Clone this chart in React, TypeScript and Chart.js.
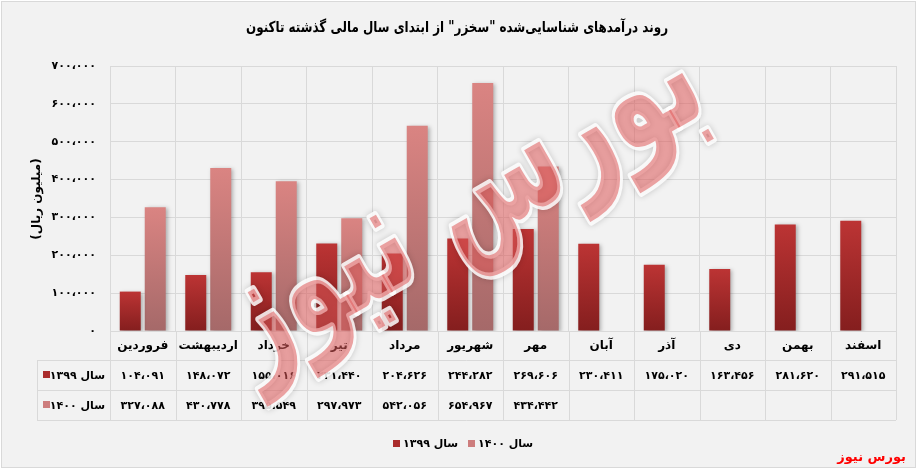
import React, { useEffect, useRef } from "react";
import { Chart, registerables } from "chart.js";
Chart.register(...registerables);

const categories = ["فروردین", "اردیبهشت", "خرداد", "تیر", "مرداد", "شهریور", "مهر", "آبان", "آذر", "دی", "بهمن", "اسفند"];
const series1399 = [104091, 148072, 155016, 231440, 204626, 244282, 269606, 230411, 175020, 163456, 281620, 291515];
const series1400 = [327088, 430778, 395549, 297973, 542056, 654967, 434442, null, null, null, null, null];
const seriesLabels = ["سال ۱۳۹۹", "سال ۱۴۰۰"];
const yMax = 700000;
const yStep = 100000;
const titleText = 'روند درآمدهای شناسایی‌شده "سخزر" از ابتدای سال مالی گذشته تاکنون';
const yTitleText = "(میلیون ریال)";
const watermarkText = "بورس نیوز";
const sourceText = "بورس نیوز";

const FONT = '"DejaVu Sans", sans-serif';
const faDigits = "۰۱۲۳۴۵۶۷۸۹";
function toFa(n: number): string {
  const s = Math.round(n).toString().replace(/\B(?=(\d{3})+(?!\d))/g, "،");
  return s.replace(/\d/g, (d) => faDigits[+d]);
}

const swatch = ["rgb(170,44,44)", "rgb(205,125,125)"];

function barGradient(top: [number, number, number], bottom: [number, number, number]) {
  return (ctx: any) => {
    const chart = ctx.chart;
    const area = chart.chartArea;
    const v = ctx.parsed ? ctx.parsed.y : null;
    if (!area || v == null) return `rgb(${top.join(",")})`;
    const yTop = chart.scales.y.getPixelForValue(v);
    const g = chart.ctx.createLinearGradient(0, yTop, 0, area.bottom);
    g.addColorStop(0, `rgb(${top.join(",")})`);
    g.addColorStop(1, `rgb(${bottom.join(",")})`);
    return g;
  };
}

const decorPlugin = {
  id: "decor",
  beforeDraw(chart: any) {
    const ctx = chart.ctx;
    ctx.save();
    ctx.fillStyle = "#ffffff";
    ctx.fillRect(0, 0, chart.width, chart.height);
    ctx.fillStyle = "#f2f2f2";
    ctx.fillRect(2, 2, 913, 465);
    ctx.strokeStyle = "#d9d9d9";
    ctx.lineWidth = 1;
    ctx.strokeRect(1.5, 1.5, 914, 466);
    ctx.restore();
  },
  beforeDatasetsDraw(chart: any) {
    const ctx = chart.ctx;
    ctx.save();
    ctx.shadowColor = "rgba(0,0,0,0.28)";
    ctx.shadowBlur = 4;
    ctx.shadowOffsetX = 2;
    ctx.shadowOffsetY = 1;
  },
  afterDatasetsDraw(chart: any) {
    chart.ctx.restore();
  },
  afterDraw(chart: any) {
    const ctx = chart.ctx;
    const area = chart.chartArea;
    const xs = chart.scales.x;
    const colW = (area.right - area.left) / categories.length;
    ctx.save();

    // title (condensed to the reference width)
    ctx.save();
    ctx.fillStyle = "#000";
    ctx.textAlign = "center";
    ctx.textBaseline = "middle";
    ctx.font = `bold 15px ${FONT}`;
    const tw = ctx.measureText(titleText).width;
    ctx.translate(457, 28);
    ctx.scale(Math.min(1, 422 / tw), 1);
    ctx.fillText(titleText, 0, 0);
    ctx.restore();

    // y title
    ctx.save();
    ctx.fillStyle = "#000";
    ctx.textAlign = "center";
    ctx.textBaseline = "middle";
    ctx.translate(37, 199);
    ctx.rotate(-Math.PI / 2);
    ctx.font = `bold 12px ${FONT}`;
    ctx.fillText(yTitleText, 0, 0);
    ctx.restore();

    // table
    const rowTop = area.bottom;
    const r1 = rowTop + 29;
    const r2 = r1 + 30;
    const r3 = r2 + 30;
    const labelLeft = 37;
    ctx.strokeStyle = "#d9d9d9";
    ctx.lineWidth = 1;
    ctx.beginPath();
    [r1, r2, r3].forEach((y) => {
      ctx.moveTo(labelLeft, Math.round(y) + 0.5);
      ctx.lineTo(area.right, Math.round(y) + 0.5);
    });
    ctx.moveTo(labelLeft + 0.5, r1);
    ctx.lineTo(labelLeft + 0.5, r3);
    for (let i = 0; i <= categories.length; i++) {
      const x = Math.round(area.left + i * colW) + 0.5;
      ctx.moveTo(x, rowTop);
      ctx.lineTo(x, r3);
    }
    ctx.stroke();

    ctx.fillStyle = "#000";
    ctx.textAlign = "center";
    ctx.textBaseline = "middle";
    categories.forEach((c, i) => {
      const cx = xs.getPixelForValue(i);
      ctx.font = `bold 12px ${FONT}`;
      ctx.fillText(c, cx, (rowTop + r1) / 2);
      ctx.font = `bold 11px ${FONT}`;
      const v1 = series1399[i];
      if (v1 != null) ctx.fillText(toFa(v1), cx, (r1 + r2) / 2 + 1);
      const v2 = series1400[i];
      if (v2 != null) ctx.fillText(toFa(v2), cx, (r2 + r3) / 2 + 1);
    });
    // row labels
    [[r1, r2], [r2, r3]].forEach(([a, b], k) => {
      const cy = (a + b) / 2;
      ctx.fillStyle = swatch[k];
      ctx.fillRect(43, cy - 4, 7, 7);
      ctx.fillStyle = "#000";
      ctx.textAlign = "right";
      ctx.font = `bold 11px ${FONT}`;
      ctx.fillText(seriesLabels[k], 105, cy + 1);
    });

    // legend
    ctx.textAlign = "left";
    ctx.font = `bold 11px ${FONT}`;
    const legX = [393, 468];
    seriesLabels.forEach((t, k) => {
      ctx.fillStyle = swatch[k];
      ctx.fillRect(legX[k], 440, 7, 7);
      ctx.fillStyle = "#000";
      ctx.fillText(t, legX[k] + 10, 444);
    });

    // source
    ctx.fillStyle = "#ff0000";
    ctx.textAlign = "right";
    ctx.font = `bold 13px ${FONT}`;
    ctx.fillText(sourceText, 906, 458);

    // watermark
    ctx.save();
    ctx.translate(462, 205);
    ctx.rotate(-0.52);
    ctx.textAlign = "center";
    ctx.textBaseline = "middle";
    ctx.font = `bold 120px ${FONT}`;
    const w = ctx.measureText(watermarkText).width;
    const scale = 530 / w;
    ctx.scale(scale, 1.3);
    ctx.lineJoin = "round";
    ctx.shadowColor = "rgba(0,0,0,0.22)";
    ctx.shadowBlur = 6;
    ctx.strokeStyle = "rgba(255,255,255,0.85)";
    ctx.lineWidth = 6;
    ctx.strokeText(watermarkText, 0, 0);
    ctx.shadowColor = "transparent";
    ctx.fillStyle = "rgba(222,90,90,0.55)";
    ctx.fillText(watermarkText, 0, 0);
    ctx.restore();

    ctx.restore();
  },
};

export default function App() {
  const ref = useRef<HTMLCanvasElement | null>(null);
  useEffect(() => {
    if (!ref.current) return;
    const chart = new Chart(ref.current, {
      type: "bar",
      data: {
        labels: categories,
        datasets: [
          {
            label: seriesLabels[0],
            data: series1399,
            backgroundColor: barGradient([188, 52, 52], [132, 30, 30]),
            categoryPercentage: 0.763,
            barPercentage: 0.84,
          },
          {
            label: seriesLabels[1],
            data: series1400 as any,
            backgroundColor: barGradient([218, 132, 130], [165, 105, 105]),
            categoryPercentage: 0.763,
            barPercentage: 0.84,
          },
        ],
      },
      options: {
        responsive: false,
        animation: false,
        events: [],
        layout: { padding: { left: 0, top: 66, right: 23, bottom: 138 } },
        plugins: { legend: { display: false }, tooltip: { enabled: false }, title: { display: false } },
        scales: {
          x: {
            offset: true,
            grid: { offset: true, color: "#d9d9d9", drawTicks: false },
            border: { display: false },
            ticks: { display: false },
            afterFit: (s: any) => {
              s.height = 0;
            },
          },
          y: {
            min: 0,
            max: yMax,
            grid: { color: "#d9d9d9", drawTicks: false },
            border: { display: false },
            ticks: {
              stepSize: yStep,
              padding: 14,
              color: "#000",
              font: { family: FONT, weight: "bold", size: 11 },
              callback: (v: any) => toFa(Number(v)),
            },
            afterFit: (s: any) => {
              s.width = 110;
            },
          },
        },
      },
      plugins: [decorPlugin],
    });
    return () => chart.destroy();
  }, []);
  return (
    <canvas
      ref={ref}
      width={919}
      height={469}
      style={{ position: "absolute", left: 0, top: 0, width: 919, height: 469 }}
    />
  );
}
